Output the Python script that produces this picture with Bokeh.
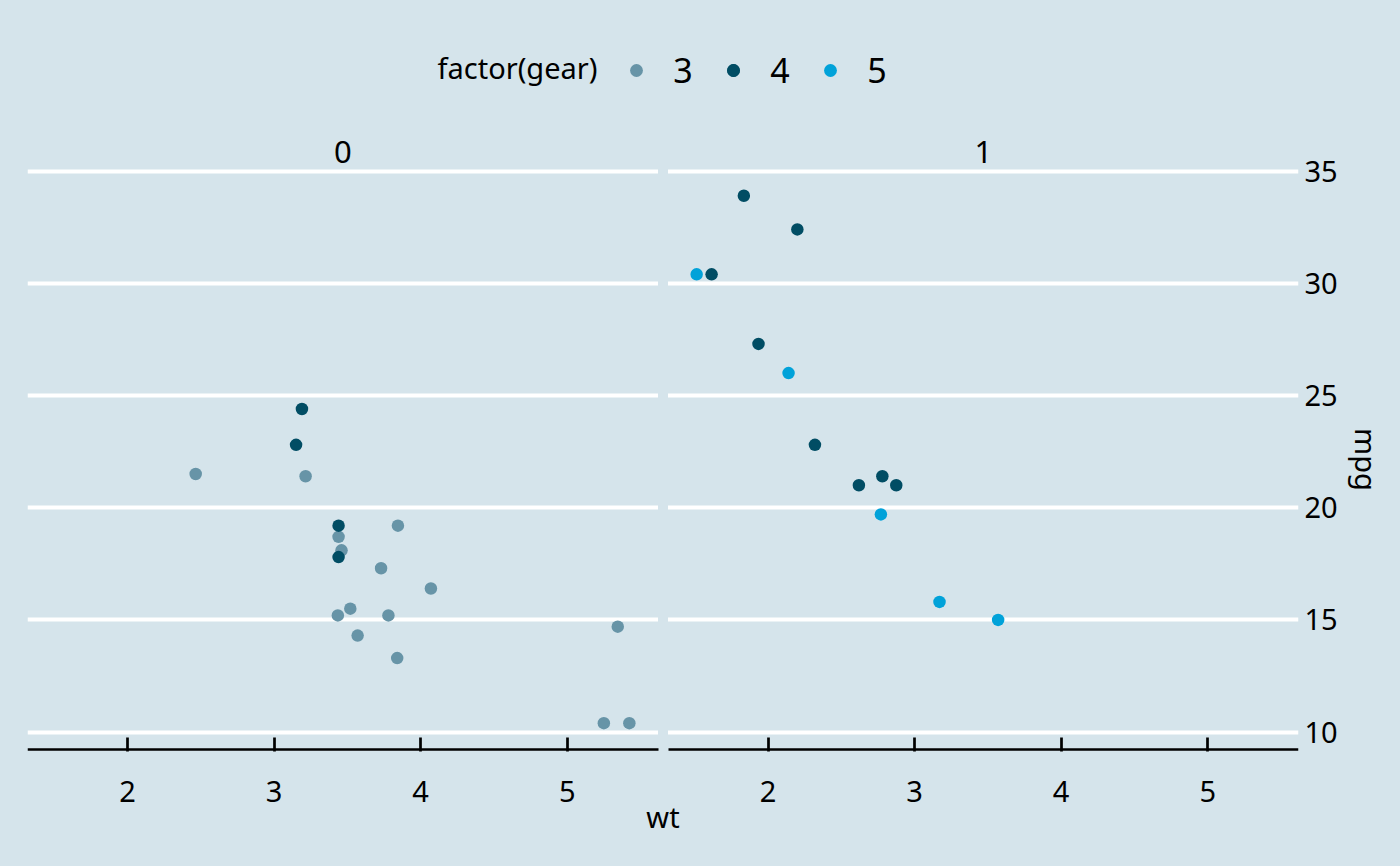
import numpy as np
from bokeh.plotting import figure
from bokeh.models import (ColumnDataSource, Range1d, LinearAxis, FixedTicker,
                          Legend, LegendItem, Label, BoxAnnotation)
from bokeh.embed import file_html
from bokeh.resources import INLINE

# ---- data (mtcars) ----
wt = [2.620, 2.875, 2.320, 3.215, 3.440, 3.460, 3.570, 3.190, 3.150, 3.440, 3.440,
      4.070, 3.730, 3.780, 5.250, 5.424, 5.345, 2.200, 1.615, 1.835, 2.465, 3.520,
      3.435, 3.840, 3.845, 1.935, 2.140, 1.513, 3.170, 2.770, 3.570, 2.780]
mpg = [21.0, 21.0, 22.8, 21.4, 18.7, 18.1, 14.3, 24.4, 22.8, 19.2, 17.8,
       16.4, 17.3, 15.2, 10.4, 10.4, 14.7, 32.4, 30.4, 33.9, 21.5, 15.5,
       15.2, 13.3, 19.2, 27.3, 26.0, 30.4, 15.8, 19.7, 15.0, 21.4]
am = [1, 1, 1, 0, 0, 0, 0, 0, 0, 0, 0,
      0, 0, 0, 0, 0, 0, 1, 1, 1, 0, 0,
      0, 0, 0, 1, 1, 1, 1, 1, 1, 1]
gear = [4, 4, 4, 3, 3, 3, 3, 4, 4, 4, 4,
        3, 3, 3, 3, 3, 3, 4, 4, 4, 3, 3,
        3, 3, 3, 4, 5, 5, 5, 5, 5, 4]

am_levels = [0, 1]
gear_levels = [3, 4, 5]
gear_colors = ["#6794a7", "#014d64", "#01a2d9"]
x_ticks = [2, 3, 4, 5]
y_ticks = [10, 15, 20, 25, 30, 35]
legend_title = "factor(gear)"
x_title = "wt"
y_title = "mpg"

BG = "#d5e4eb"
FONT = "Noto Sans"

# ---- scales (ggplot-like 5% expansion) ----
wt_a = np.array(wt); mpg_a = np.array(mpg); am_a = np.array(am); gear_a = np.array(gear)
xs = wt_a.max() - wt_a.min()
x0, x1 = wt_a.min() - 0.05 * xs, wt_a.max() + 0.05 * xs
ys = mpg_a.max() - mpg_a.min()
y0, y1 = mpg_a.min() - 0.05 * ys, mpg_a.max() + 0.05 * ys

# layout (pixels)
LEFT = 27
FW, GAP = 1271, 10
PW = (FW - GAP) / 2
PANEL_BOTTOM = 749          # screen y of the panels' bottom edge
FH = PANEL_BOTTOM + 2       # frame reaches a little below so the axis line is not clipped
TOP = 168.9                 # screen y of the panels' top edge (inside the frame)
PH = PANEL_BOTTOM - TOP     # panel height
span = x1 - x0
xpp = span / PW             # data units per px (x)
ypp = (y1 - y0) / PH        # data units per px (y)
OFF1 = (PW + GAP) * xpp     # panel-1 offset in default-range units

def xd(cx):                 # screen x -> panel-0 data x
    return x0 + (cx - LEFT) * xpp

def yd(cy):                 # screen y -> data y
    return y1 + (TOP - cy) * ypp

r0 = Range1d(x0, x0 + FW * xpp)
r1 = Range1d(x1 - FW * xpp, x1)

p = figure(x_range=r0, y_range=Range1d(yd(FH), yd(0)),
           frame_width=FW, frame_height=FH,
           min_border_left=LEFT, min_border_right=1400 - LEFT - FW,
           min_border_top=0, min_border_bottom=866 - FH,
           x_axis_location=None, y_axis_location="right",
           output_backend="svg", toolbar_location=None,
           background_fill_color=BG, border_fill_color=BG,
           outline_line_color=None)
p.extra_x_ranges = {"p1": r1}

for g in p.xgrid:
    g.visible = False
p.ygrid.ticker = FixedTicker(ticks=y_ticks)
p.ygrid.bounds = (y0, y1)
p.ygrid.grid_line_color = "white"
p.ygrid.grid_line_width = 4

# right y axis (tick labels)
ya = p.yaxis[0]
ya.ticker = FixedTicker(ticks=y_ticks)
ya.axis_line_color = None
ya.major_tick_out = 0
ya.major_tick_in = 0
ya.minor_tick_out = 0
ya.minor_tick_in = 0
ya.major_label_standoff = 6
ya.major_label_text_font = FONT
ya.major_label_text_font_size = "29px"
ya.major_label_text_color = "black"

# right y title, centred on the panels
ymid = (y0 + y1) / 2
yt = LinearAxis(ticker=FixedTicker(ticks=[ymid]), major_label_overrides={ymid: y_title},
                major_label_orientation="parallel", axis_line_color=None,
                major_tick_in=0, major_tick_out=0, minor_tick_in=0, minor_tick_out=0,
                major_label_standoff=6, major_label_text_font=FONT,
                major_label_text_font_size="29px", major_label_text_color="black")
p.add_layout(yt, "right")

# gap between panels (covers the gridlines)
p.add_layout(BoxAnnotation(left=x1, right=x1 + GAP * xpp,
                           fill_color=BG, fill_alpha=1.0, line_color=None,
                           level="underlay"))

# bottom axis lines per panel (no ticks / labels of their own)
range_names = ["default", "p1"]
for rn in range_names:
    ax = LinearAxis(x_range_name=rn, ticker=FixedTicker(ticks=[]),
                    bounds=(x0, x1), fixed_location=y0,
                    axis_line_color="black", axis_line_width=2.7,
                    major_tick_in=0, major_tick_out=0,
                    minor_tick_in=0, minor_tick_out=0)
    p.add_layout(ax, "below")

# ticks + tick labels for both panels + common x title
lab_ticks = list(x_ticks) + [t + OFF1 for t in x_ticks]
lab_over = {v: str(t) for v, t in zip(lab_ticks, list(x_ticks) * 2)}
lax = LinearAxis(ticker=FixedTicker(ticks=lab_ticks), major_label_overrides=lab_over,
                 axis_line_color=None,
                 major_tick_in=14, major_tick_out=0,
                 major_tick_line_color="black", major_tick_line_width=2.7,
                 minor_tick_in=0, minor_tick_out=0,
                 major_label_standoff=29, major_label_text_font=FONT,
                 major_label_text_font_size="29px", major_label_text_color="black",
                 axis_label=x_title, axis_label_standoff=-8,
                 axis_label_text_font=FONT, axis_label_text_font_size="29px",
                 axis_label_text_font_style="normal", axis_label_text_color="black")
p.add_layout(lax, "below")

# strip labels
for i, lvl in enumerate(am_levels):
    p.add_layout(Label(x=(x0 + x1) / 2, y=yd(151.8),
                       x_range_name=range_names[i], text=str(lvl),
                       text_align="center", text_baseline="alphabetic",
                       text_font=FONT, text_font_size="31px", text_color="black"))

# points
gear_renderers = {g: [] for g in gear_levels}
for i, lvl in enumerate(am_levels):
    for g, col in zip(gear_levels, gear_colors):
        m = (am_a == lvl) & (gear_a == g)
        if not m.any():
            continue
        src = ColumnDataSource(dict(x=wt_a[m], y=mpg_a[m]))
        r = p.scatter("x", "y", source=src, size=12.5, fill_color=col,
                      line_color=None, x_range_name=range_names[i])
        gear_renderers[g].append(r)

# legend title
p.add_layout(Label(x=xd(437), y=yd(67), text=legend_title,
                   text_align="left", text_baseline="alphabetic",
                   text_font=FONT, text_font_size="29px", text_color="black"))

items = [LegendItem(label=str(g), renderers=gear_renderers[g]) for g in gear_levels]
LEG_H = 46
legend = Legend(items=items, orientation="horizontal",
                location=(620.3 - LEFT, FH - (69.7 + LEG_H / 2)),
                glyph_width=32, glyph_height=32, label_standoff=21, spacing=24,
                padding=0, margin=0,
                label_text_font=FONT, label_text_font_size="34px", label_text_color="black",
                background_fill_alpha=0, border_line_color=None)
p.add_layout(legend, "center")

html = file_html(p, INLINE)
html = html.replace("<body>", '<body style="background-color:%s;">' % BG)
open("out.html", "w").write(html)
